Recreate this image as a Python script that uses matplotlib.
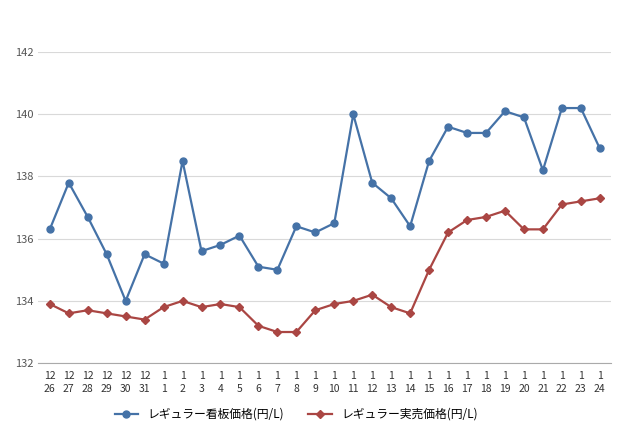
import matplotlib.pyplot as plt

months = ["12"] * 6 + ["1"] * 24
days = [26, 27, 28, 29, 30, 31] + list(range(1, 25))
tick_labels = [f"{m}\n{d}" for m, d in zip(months, days)]

signboard = [136.3, 137.8, 136.7, 135.5, 134.0, 135.5, 135.2, 138.5, 135.6, 135.8,
             136.1, 135.1, 135.0, 136.4, 136.2, 136.5, 140.0, 137.8, 137.3, 136.4,
             138.5, 139.6, 139.4, 139.4, 140.1, 139.9, 138.2, 140.2, 140.2, 138.9]
actual = [133.9, 133.6, 133.7, 133.6, 133.5, 133.4, 133.8, 134.0, 133.8, 133.9,
          133.8, 133.2, 133.0, 133.0, 133.7, 133.9, 134.0, 134.2, 133.8, 133.6,
          135.0, 136.2, 136.6, 136.7, 136.9, 136.3, 136.3, 137.1, 137.2, 137.3]

plt.rcParams["font.family"] = "Noto Sans CJK JP"
fig, ax = plt.subplots(figsize=(6.4, 4.45), dpi=100)
fig.subplots_adjust(left=0.06, right=0.955, top=0.883, bottom=0.184)

x = range(len(tick_labels))
ax.plot(x, signboard, color="#4572a7", lw=1.6, marker="o", ms=5,
        label="レギュラー看板価格(円/L)")
ax.plot(x, actual, color="#aa4643", lw=1.6, marker="D", ms=4,
        label="レギュラー実売価格(円/L)")

ax.set_ylim(132, 142)
ax.set_yticks(range(132, 143, 2))
ax.set_xlim(-0.6, len(tick_labels) - 0.4)
ax.set_xticks(list(x))
ax.set_xticklabels(tick_labels, fontsize=7.5, color="#333333", linespacing=1.3)
ax.tick_params(axis="y", labelsize=8, colors="#555555", length=0)
ax.tick_params(axis="x", length=0, pad=6)
ax.grid(axis="y", color="#d9d9d9", lw=0.8)
ax.set_axisbelow(True)
for s in ["top", "right", "left"]:
    ax.spines[s].set_visible(False)
ax.spines["bottom"].set_color("#aaaaaa")

ax.legend(loc="upper center", bbox_to_anchor=(0.45, -0.11), ncol=2, frameon=False,
          fontsize=8.5, handlelength=2, columnspacing=2)

fig.savefig("out.png", dpi=100)
